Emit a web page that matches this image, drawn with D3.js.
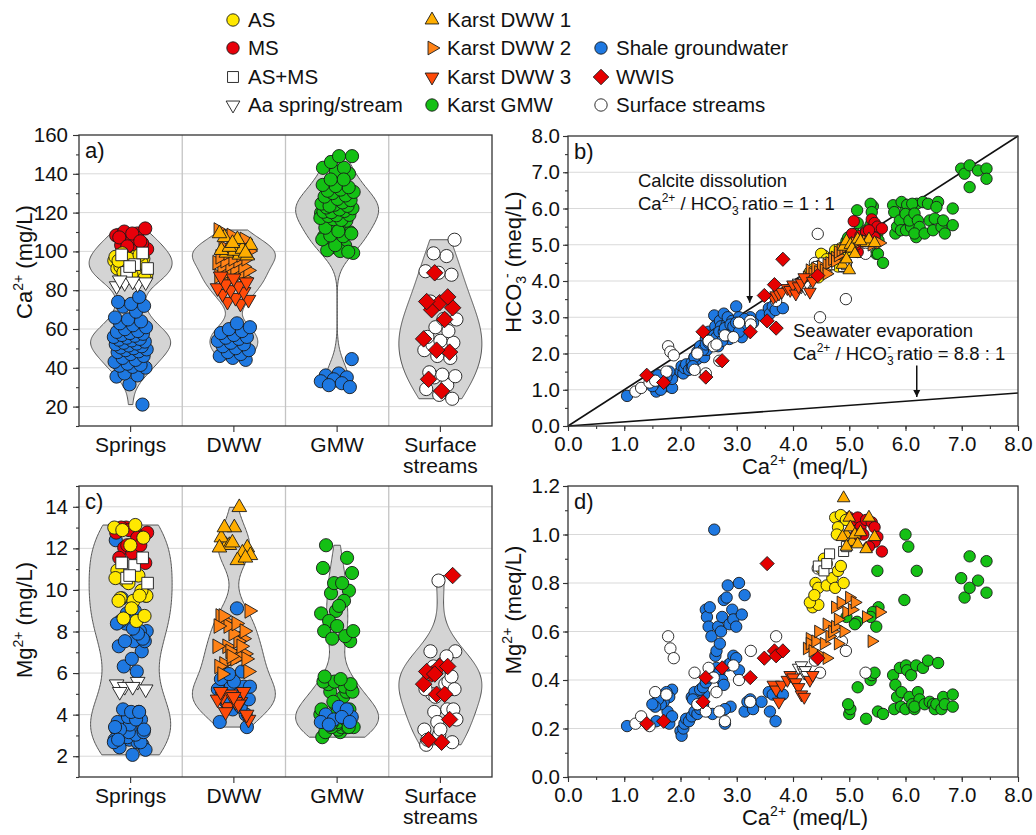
<!DOCTYPE html>
<html>
<head>
<meta charset="utf-8">
<script src="https://cdn.jsdelivr.net/npm/d3@7"></script>
<style>
  body { margin: 0; background: #fff; }
  text { font-family: "Liberation Sans", Arial, Helvetica, sans-serif; fill: #111; }
</style>
</head>
<body>
<script>
// Every sample is [Ca2+, HCO3-, Mg2+] in meq/L.
// Panels a) and c) show Ca2+ and Mg2+ converted to mg/L.
const CA_MG_PER_MEQ = 20.04;
const MG_MG_PER_MEQ = 12.15;

const categories = ["Springs", "DWW", "GMW", "Surface streams"];
const caMgTicks = [20, 40, 60, 80, 100, 120, 140, 160];
const mgMgTicks = [2, 4, 6, 8, 10, 12, 14];
const meqTicks = [0, 1, 2, 3, 4, 5, 6, 7, 8];
const mgMeqTicks = [0, 0.2, 0.4, 0.6, 0.8, 1.0, 1.2];

const springsAS = [
  [4.75,4.75,1.07],[4.85,4.90,1.08],[4.94,4.80,1.06],[4.80,4.60,1.03],[4.78,4.50,1.00],
  [4.55,4.70,0.90],[4.60,4.45,0.88],[4.50,4.75,0.86],[4.40,4.30,0.80],[4.45,4.40,0.78],
  [4.60,4.60,0.79],[4.70,4.50,0.82],[4.80,4.40,0.85],[4.85,4.70,0.87],[4.35,4.20,0.70],
  [4.45,4.10,0.71],[4.30,4.25,0.72],[4.38,4.35,0.75],[4.75,4.85,0.78],[4.90,4.50,0.80]
];
const springsMS = [
  [5.00,4.95,1.07],[5.05,5.30,1.05],[5.08,5.65,1.06],[5.15,4.80,1.07],[5.20,5.25,1.03],
  [5.30,5.35,1.06],[5.40,5.70,1.05],[5.45,5.60,1.03],[5.50,5.50,0.99],[5.58,5.45,0.93],
  [5.45,5.20,0.97],[5.35,5.40,0.95],[5.25,5.10,1.00],[5.12,5.00,1.00]
];
const springsASMS = [
  [4.45,4.40,0.87],[4.55,4.50,0.85],[4.65,4.45,0.92],[4.90,4.40,0.93],[4.95,4.45,0.95],[4.60,4.30,0.88]
];
const springsAa = [
  [4.10,3.95,0.45],[4.15,3.85,0.46],[4.18,3.90,0.44],[4.20,4.00,0.43],[4.22,3.80,0.44],[4.25,3.95,0.42]
];
const karstDWW1 = [
  [4.90,4.95,1.15],[4.95,5.10,1.00],[4.88,4.45,0.99],[5.00,4.30,1.07],[5.02,5.00,1.03],
  [5.05,4.90,0.97],[5.10,4.75,1.00],[5.15,5.15,0.96],[5.30,5.05,0.94],[5.35,5.15,1.07],
  [4.95,4.60,0.95],[5.20,5.10,1.01],[5.45,5.05,0.99]
];
const karstDWW2 = [
  [4.25,4.10,0.53],[4.30,4.15,0.57],[4.30,4.30,0.55],[4.35,4.20,0.52],[4.40,4.35,0.56],
  [4.45,4.25,0.60],[4.50,4.40,0.50],[4.55,4.30,0.55],[4.60,4.45,0.49],[4.60,4.20,0.63],
  [4.65,4.50,0.58],[4.70,4.60,0.60],[4.75,4.65,0.62],[4.75,4.55,0.70],[4.80,4.70,0.55],
  [4.80,4.80,0.65],[4.85,4.85,0.72],[4.90,4.90,0.60],[4.95,4.95,0.68],[5.00,5.00,0.74],
  [5.05,4.95,0.69],[5.10,5.05,0.72],[5.30,5.10,0.66],[5.40,5.00,0.56],[5.54,5.05,0.68]
];
const karstDWW3 = [
  [3.65,3.55,0.38],[3.70,3.60,0.36],[3.75,3.65,0.31],[3.80,3.70,0.38],[3.90,3.80,0.40],
  [3.95,3.75,0.42],[4.00,3.90,0.41],[4.05,3.65,0.39],[4.10,3.85,0.37],[4.15,3.95,0.34],
  [4.20,4.10,0.33],[4.30,3.70,0.40],[4.35,4.00,0.42]
];
const karstGMW = [
  [6.99,7.10,0.82],[7.05,6.96,0.74],[7.14,7.19,0.91],[7.14,6.59,0.78],[7.29,7.05,0.81],
  [7.44,7.10,0.89],[7.44,6.82,0.76],
  [6.00,6.04,1.00],[6.05,5.67,0.95],[6.20,6.13,0.85],[5.98,5.72,0.73],[5.50,5.31,0.85],
  [5.52,5.12,0.70],[5.48,4.75,0.62],[5.42,6.06,0.68],[5.38,6.13,0.66],[5.14,5.95,0.64],
  [5.10,5.30,0.63],[4.95,5.10,0.66],
  [5.00,4.90,0.26],[5.02,5.05,0.28],[4.98,5.20,0.30],[5.15,5.60,0.37],[5.30,5.40,0.24],
  [5.38,5.55,0.40],[5.40,5.90,0.42],[5.45,5.25,0.43],[5.51,4.75,0.27],[5.60,4.50,0.26],
  [5.78,6.09,0.42],[5.82,5.31,0.38],[5.85,5.50,0.33],[5.80,5.90,0.28],[5.90,5.67,0.45],
  [5.93,6.18,0.35],[5.92,5.40,0.29],[6.01,5.40,0.46],[6.03,6.10,0.44],[6.00,5.85,0.28],
  [6.10,5.49,0.42],[6.07,5.67,0.33],[6.12,6.13,0.30],[6.16,5.86,0.28],[6.19,5.21,0.46],
  [6.22,5.67,0.35],[6.25,5.49,0.32],[6.16,5.31,0.29],[6.31,6.18,0.45],[6.34,5.31,0.30],
  [6.40,6.13,0.48],[6.43,5.67,0.31],[6.49,5.40,0.30],[6.52,5.72,0.28],[6.58,6.18,0.47],
  [6.55,6.04,0.30],[6.64,5.49,0.28],[6.67,5.67,0.33],[6.70,5.31,0.30],[6.84,6.00,0.34],
  [6.84,5.54,0.29]
];
// Shale groundwater, split by the site group it was sampled in
const shaleSprings = [
  [1.05,0.83,0.21],[1.57,0.95,0.23],[1.77,1.10,0.27],[1.80,1.20,0.22],[1.85,1.05,0.25],
  [2.00,1.50,0.19],[2.02,1.65,0.17],[2.05,1.45,0.20],[2.07,1.60,0.22],[2.10,1.70,0.24],
  [2.15,1.55,0.23],[2.20,1.75,0.25],[2.25,1.90,0.27],[2.30,1.85,0.26],[2.35,2.00,0.28],
  [2.40,2.20,0.30],[2.42,1.90,0.34],[2.45,2.40,0.69],[2.47,2.10,0.66],[2.50,2.60,0.62],
  [2.52,2.30,0.70],[2.55,2.50,0.58],[2.57,2.35,0.26],[2.60,3.05,1.02],[2.62,2.75,0.50],
  [2.64,2.55,0.52],[2.67,2.20,0.62],[2.70,2.90,0.55],[2.72,2.75,0.60],[2.74,2.50,0.66],
  [2.77,3.10,0.73],[2.79,2.60,0.22],[2.82,2.80,0.74],[2.84,3.00,0.79],[2.87,2.40,0.63],
  [2.89,2.65,0.29],[2.92,2.90,0.69],[2.94,2.60,0.65],[2.99,3.30,0.62],[3.04,3.00,0.80],
  [3.09,2.45,0.67],[3.14,2.90,0.27],[3.19,2.75,0.31],[3.24,3.00,0.32],[3.29,2.85,0.28],
  [3.44,3.05,0.31],[3.57,3.25,0.35],[3.59,3.10,0.27],[3.64,3.30,0.34],[3.69,3.20,0.23],
  [3.82,3.25,0.34]
];
const shaleDWW = [
  [2.20,1.60,0.33],[2.25,1.90,0.35],[2.30,2.05,0.30],[2.35,2.20,0.36],[2.40,2.10,0.37],
  [2.45,2.25,0.39],[2.50,2.30,0.41],[2.55,2.40,0.42],[2.60,2.50,0.44],[2.64,2.45,0.45],
  [2.69,2.60,0.43],[2.74,2.35,0.40],[2.77,2.60,0.38],[2.79,2.70,0.28],[2.84,2.50,0.46],
  [2.89,2.80,0.47],[2.94,2.75,0.50],[2.99,2.85,0.49],[3.04,2.60,0.44],[3.14,2.95,0.75]
];
const shaleGMW = [
  [2.22,1.65,0.32],[1.85,1.30,0.36],[1.80,1.50,0.33],[1.75,1.35,0.35],[1.70,1.20,0.31],
  [1.65,1.00,0.30],[1.60,1.40,0.32],[1.55,1.20,0.29],[1.50,1.10,0.30]
];
const surfaceStreams = [
  [1.20,0.95,0.22],[1.30,1.05,0.25],[1.45,1.20,0.21],[1.55,1.25,0.35],[1.75,1.50,0.34],
  [1.78,2.20,0.58],[1.82,2.05,0.53],[1.88,1.95,0.49],[2.25,1.55,0.43],[2.30,2.00,0.30],
  [2.45,1.45,0.27],[2.50,2.35,0.45],[2.59,2.20,0.41],[2.64,2.25,0.35],[2.69,1.80,0.27],
  [2.79,2.50,0.23],[2.94,2.45,0.46],[3.04,2.85,0.40],[3.24,2.90,0.31],[3.25,2.80,0.52],
  [3.70,3.45,0.58],[4.39,4.50,0.48],[4.44,5.30,0.86],[4.48,3.00,0.43],[4.87,4.40,0.56],
  [4.94,3.50,0.52],[5.29,4.75,0.43]
];
const wwis = [
  [1.40,1.40,0.22],[1.70,1.20,0.23],[2.40,2.60,0.31],[2.45,1.35,0.41],[2.74,1.80,0.45],
  [3.24,2.60,0.41],[3.49,3.60,0.49],[3.54,2.90,0.88],[3.67,3.90,0.52],[3.70,2.70,0.50],
  [3.82,4.60,0.52],[4.44,4.15,0.49]
];

const COL = {
  AS: "#FFE800", MS: "#E8000A", white: "#FFFFFF",
  dww1: "#FFAE00", dww2: "#FF8216", dww3: "#FF4A08",
  gmw: "#14C014", shale: "#1E78E1", wwis: "#E50000"
};

// drawing order (later on top)
const series = [
  { data: karstGMW,       cat: "GMW",             shape: "circle",   fill: COL.gmw },
  { data: shaleSprings,   cat: "Springs",         shape: "circle",   fill: COL.shale },
  { data: shaleDWW,       cat: "DWW",             shape: "circle",   fill: COL.shale },
  { data: shaleGMW,       cat: "GMW",             shape: "circle",   fill: COL.shale },
  { data: surfaceStreams, cat: "Surface streams", shape: "circle",   fill: COL.white },
  { data: springsMS,      cat: "Springs",         shape: "circle",   fill: COL.MS },
  { data: springsAS,      cat: "Springs",         shape: "circle",   fill: COL.AS },
  { data: springsASMS,    cat: "Springs",         shape: "square",   fill: COL.white },
  { data: springsAa,      cat: "Springs",         shape: "triDown",  fill: COL.white },
  { data: karstDWW2,      cat: "DWW",             shape: "triRight", fill: COL.dww2 },
  { data: karstDWW1,      cat: "DWW",             shape: "triUp",    fill: COL.dww1 },
  { data: karstDWW3,      cat: "DWW",             shape: "triDown",  fill: COL.dww3 },
  { data: wwis,           cat: "Surface streams", shape: "diamond",  fill: COL.wwis }
];

const legendItems = [
  { col: 0, row: 0, label: "AS",                shape: "circle",   fill: COL.AS },
  { col: 0, row: 1, label: "MS",                shape: "circle",   fill: COL.MS },
  { col: 0, row: 2, label: "AS+MS",             shape: "square",   fill: COL.white },
  { col: 0, row: 3, label: "Aa spring/stream",  shape: "triDown",  fill: COL.white },
  { col: 1, row: 0, label: "Karst DWW 1",       shape: "triUp",    fill: COL.dww1 },
  { col: 1, row: 1, label: "Karst DWW 2",       shape: "triRight", fill: COL.dww2 },
  { col: 1, row: 2, label: "Karst DWW 3",       shape: "triDown",  fill: COL.dww3 },
  { col: 1, row: 3, label: "Karst GMW",         shape: "circle",   fill: COL.gmw },
  { col: 2, row: 1, label: "Shale groundwater", shape: "circle",   fill: COL.shale },
  { col: 2, row: 2, label: "WWIS",              shape: "diamond",  fill: COL.wwis },
  { col: 2, row: 3, label: "Surface streams",   shape: "circle",   fill: COL.white }
];

const svg = d3.select("body").append("svg").attr("width", 1036).attr("height", 835);

function shapePath(type, r) {
  const R = r * 1.28;
  const h = R * 0.866;
  switch (type) {
    case "circle":
      return `M${r},0A${r},${r} 0 1,1 ${-r},0A${r},${r} 0 1,1 ${r},0Z`;
    case "square": {
      const s = r * 0.88;
      return `M${-s},${-s}H${s}V${s}H${-s}Z`;
    }
    case "diamond": {
      const s = r * 1.25;
      return `M0,${-s}L${s},0L0,${s}L${-s},0Z`;
    }
    case "triUp":    return `M0,${-R}L${h},${R / 2}L${-h},${R / 2}Z`;
    case "triDown":  return `M0,${R}L${h},${-R / 2}L${-h},${-R / 2}Z`;
    case "triRight": return `M${R},0L${-R / 2},${h}L${-R / 2},${-h}Z`;
  }
}

function marker(g, shape, fill, x, y, r) {
  g.append("path")
    .attr("d", shapePath(shape, r))
    .attr("transform", `translate(${x},${y})`)
    .attr("fill", fill)
    .attr("stroke", "#1a1a1a")
    .attr("stroke-width", 0.9);
}

// ---------- legend ----------
const legendX = [233, 432, 601];
const legendY = [20, 48, 77, 105];
const lg = svg.append("g");
legendItems.forEach(it => {
  const cx = legendX[it.col], cy = legendY[it.row];
  marker(lg, it.shape, it.fill, cx, cy, 6.2);
  lg.append("text").attr("x", cx + 15).attr("y", cy + 7)
    .attr("font-size", 20.5).text(it.label);
});

// ---------- shared helpers ----------
function styleAxis(sel, fontSize) {
  sel.select(".domain").remove();
  sel.selectAll(".tick line").attr("stroke", "#333").attr("stroke-width", 1.1);
  sel.selectAll(".tick text").attr("font-size", fontSize).attr("fill", "#111")
    .attr("font-family", '"Liberation Sans", Arial, sans-serif');
}

function frame(g, P) {
  g.append("rect").attr("x", P.l).attr("y", P.t)
    .attr("width", P.r - P.l).attr("height", P.b - P.t)
    .attr("fill", "none").attr("stroke", "#333").attr("stroke-width", 1.3);
}

function panelLetter(g, P, txt) {
  g.append("text").attr("x", P.l + 6).attr("y", P.t + 23)
    .attr("font-size", 22).text(txt);
}

// rotated axis title with a super/subscript part
function yTitle(g, x, y, parts) {
  const t = g.append("text")
    .attr("transform", `translate(${x},${y}) rotate(-90)`)
    .attr("text-anchor", "middle").attr("font-size", 22);
  parts.forEach(p => {
    const s = t.append("tspan").text(p.t);
    if (p.sup) s.attr("font-size", 14).attr("dy", -9);
    if (p.sub) s.attr("font-size", 14).attr("dy", 5);
    if (p.dy) s.attr("dy", p.dy);
    if (p.dx) s.attr("dx", p.dx);
  });
  return t;
}

function richText(g, x, y, size, parts, anchor) {
  const t = g.append("text").attr("x", x).attr("y", y)
    .attr("font-size", size).attr("text-anchor", anchor || "start");
  parts.forEach(p => {
    const s = t.append("tspan").text(p.t);
    if (p.size) s.attr("font-size", p.size);
    if (p.dy) s.attr("dy", p.dy);
    if (p.dx) s.attr("dx", p.dx);
  });
  return t;
}

// Gaussian kernel density estimate with the given bandwidth
function density(values, lo, hi, n, h) {
  const out = [];
  for (let k = 0; k <= n; k++) {
    const yv = lo + (hi - lo) * k / n;
    let s = 0;
    for (const v of values) { const u = (yv - v) / h; s += Math.exp(-0.5 * u * u); }
    out.push([yv, s]);
  }
  return out;
}

// ---------- violin panels (a, c) ----------
function violinPanel(P, domain, ticks, minorStep, idx, factor, bandwidths, letter, title) {
  const g = svg.append("g");
  const x = d3.scaleBand().domain(categories).range([P.l, P.r]).padding(0);
  const y = d3.scaleLinear().domain(domain).range([P.b, P.t]);
  const cx = c => x(c) + x.bandwidth() / 2;

  g.selectAll(".hgrid").data(ticks.filter(t => t < domain[1])).join("line")
    .attr("x1", P.l).attr("x2", P.r).attr("y1", d => y(d)).attr("y2", d => y(d))
    .attr("stroke", "#d9d9d9").attr("stroke-width", 1);
  g.selectAll(".vgrid").data(categories.slice(1)).join("line")
    .attr("x1", d => x(d)).attr("x2", d => x(d)).attr("y1", P.t).attr("y2", P.b)
    .attr("stroke", "#c4c4c4").attr("stroke-width", 1.3);

  const halfWidth = 41.5;
  categories.forEach((c, ci) => {
    const vals = series.filter(s => s.cat === c).flatMap(s => s.data.map(d => d[idx] * factor));
    const lo = d3.min(vals), hi = d3.max(vals);
    const dens = density(vals, lo, hi, 160, bandwidths[ci]);
    const dmax = d3.max(dens, d => d[1]);
    const area = d3.area()
      .y(d => y(d[0]))
      .x0(d => cx(c) - halfWidth * d[1] / dmax)
      .x1(d => cx(c) + halfWidth * d[1] / dmax)
      .curve(d3.curveBasis);
    g.append("path").attr("d", area(dens))
      .attr("fill", "#d4d4d4").attr("stroke", "#555").attr("stroke-width", 1);
  });

  // points spread sideways with a golden-ratio sequence per category
  const count = {};
  series.forEach(s => {
    s.data.forEach(d => {
      const k = count[s.cat] = (count[s.cat] || 0) + 1;
      const off = (((k * 0.6180339887 + 0.23) % 1) - 0.5) * 34;
      marker(g, s.shape, s.fill, cx(s.cat) + off, y(d[idx] * factor), 6.6);
    });
  });

  frame(g, P);

  const minors = d3.range(domain[0], domain[1] + 1e-9, minorStep);
  g.append("g").attr("transform", `translate(${P.l},0)`)
    .call(d3.axisLeft(y).tickValues(minors).tickSize(3).tickFormat(""))
    .call(s => styleAxis(s, 20));
  g.append("g").attr("transform", `translate(${P.l},0)`)
    .call(d3.axisLeft(y).tickValues(ticks).tickSize(6).tickPadding(5).tickFormat(d3.format("d")))
    .call(s => styleAxis(s, 20.5));

  g.append("g").attr("transform", `translate(0,${P.b})`)
    .call(d3.axisBottom(x).tickSize(6).tickFormat(""))
    .call(s => styleAxis(s, 20));
  categories.forEach(c => {
    const words = c === "Surface streams" ? ["Surface", "streams"] : [c];
    words.forEach((w, i) => {
      g.append("text").attr("x", cx(c)).attr("y", P.b + 26 + i * 21)
        .attr("text-anchor", "middle").attr("font-size", 21).text(w);
    });
  });

  panelLetter(g, P, letter);
  title(g);
}

// kernel bandwidths (mg/L) per category: Springs, DWW, GMW, Surface streams
const caBandwidth = [6.0, 5.5, 7.5, 14];
const mgBandwidth = [1.5, 0.85, 0.9, 1.15];

violinPanel({ l: 79, r: 492, t: 135, b: 426 }, [10, 160], caMgTicks, 10, 0, CA_MG_PER_MEQ, caBandwidth, "a)",
  g => yTitle(g, 32, 262, [{ t: "Ca" }, { t: "2+", sup: true }, { t: " (mg/L)", dy: 9 }]));

violinPanel({ l: 79, r: 492, t: 486, b: 777 }, [1, 15], mgMgTicks, 1, 2, MG_MG_PER_MEQ, mgBandwidth, "c)",
  g => yTitle(g, 32, 620, [{ t: "Mg" }, { t: "2+", sup: true }, { t: " (mg/L)", dy: 9 }]));

// ---------- scatter panels (b, d) ----------
function scatterPanel(P, yDomain, yTicks, yMinorStep, idx, letter, title) {
  const g = svg.append("g");
  const x = d3.scaleLinear().domain([0, 8]).range([P.l, P.r]);
  const y = d3.scaleLinear().domain(yDomain).range([P.b, P.t]);

  g.selectAll(".hgrid").data(yTicks.slice(1, -1)).join("line")
    .attr("x1", P.l).attr("x2", P.r).attr("y1", d => y(d)).attr("y2", d => y(d))
    .attr("stroke", "#d9d9d9").attr("stroke-width", 1);

  const extra = g.append("g");

  series.forEach(s => {
    s.data.forEach(d => marker(g, s.shape, s.fill, x(d[0]), y(d[idx]), 5.7));
  });

  frame(g, P);

  const yMinors = d3.range(yDomain[0], yDomain[1] + 1e-9, yMinorStep);
  g.append("g").attr("transform", `translate(${P.l},0)`)
    .call(d3.axisLeft(y).tickValues(yMinors).tickSize(3).tickFormat(""))
    .call(s => styleAxis(s, 20));
  g.append("g").attr("transform", `translate(${P.l},0)`)
    .call(d3.axisLeft(y).tickValues(yTicks).tickSize(5).tickPadding(3).tickFormat(d3.format(".1f")))
    .call(s => styleAxis(s, 20.5));
  g.append("g").attr("transform", `translate(0,${P.b})`)
    .call(d3.axisBottom(x).tickValues(d3.range(0, 8.01, 0.5)).tickSize(3).tickFormat(""))
    .call(s => styleAxis(s, 20));
  g.append("g").attr("transform", `translate(0,${P.b})`)
    .call(d3.axisBottom(x).tickValues(meqTicks).tickSize(5).tickPadding(5).tickFormat(d3.format(".1f")))
    .call(s => styleAxis(s, 20.5));

  richText(g, 805, P.b + 48, 22,
    [{ t: "Ca" }, { t: "2+", size: 14, dy: -9 }, { t: " (meq/L)", dy: 9 }], "middle");

  panelLetter(g, P, letter);
  title(g);
  return { g, x, y, extra };
}

const pb = scatterPanel({ l: 568, r: 1018, t: 136, b: 426 }, [0, 8], meqTicks, 0.5, 1, "b)",
  g => yTitle(g, 521, 262, [{ t: "HCO" }, { t: "3", sub: true }, { t: "-", sup: true, dy: -14, dx: -2 }, { t: " (meq/L)", dy: 9 }]));

scatterPanel({ l: 568, r: 1018, t: 486, b: 777 }, [0, 1.2], mgMeqTicks, 0.1, 2, "d)",
  g => yTitle(g, 521, 610, [{ t: "Mg" }, { t: "2+", sup: true }, { t: " (meq/L)", dy: 9 }]));

// reference lines and notes in panel b
const calciteRatio = 1.0;       // Ca2+ : HCO3- = 1 : 1
const seawaterRatio = 8.8;      // Ca2+ : HCO3- = 8.8 : 1
const lineG = pb.extra;
const lineGen = d3.line().x(d => pb.x(d[0])).y(d => pb.y(d[1]));
lineG.append("path").attr("d", lineGen([[0, 0], [8, 8 / calciteRatio]]))
  .attr("stroke", "#111").attr("stroke-width", 1.6).attr("fill", "none");
lineG.append("path").attr("d", lineGen([[0, 0], [8, 8 / seawaterRatio]]))
  .attr("stroke", "#111").attr("stroke-width", 1.6).attr("fill", "none");

svg.append("defs").append("marker").attr("id", "arrowHead")
  .attr("viewBox", "0 0 10 10").attr("refX", 10).attr("refY", 5)
  .attr("markerWidth", 7).attr("markerHeight", 9).attr("markerUnits", "userSpaceOnUse")
  .attr("orient", "auto")
  .append("path").attr("d", "M0,0L10,5L0,10Z").attr("fill", "#111");

const notes = pb.g.append("g");
[[3.23, 5.75, 3.4], [6.2, 1.67, 0.8]].forEach(([cx, y0, y1]) => {
  notes.append("line").attr("x1", pb.x(cx)).attr("x2", pb.x(cx))
    .attr("y1", pb.y(y0)).attr("y2", pb.y(y1))
    .attr("stroke", "#111").attr("stroke-width", 1.5).attr("marker-end", "url(#arrowHead)");
});
richText(notes, 638, 187, 18.5, [{ t: "Calcite dissolution" }]);
richText(notes, 638, 210, 18.5, [
  { t: "Ca" }, { t: "2+", size: 12, dy: -8 }, { t: " / HCO", dy: 8 },
  { t: "3", size: 12, dy: 5 }, { t: "-", size: 12, dy: -14, dx: -6 }, { t: " ratio = 1 : 1", dy: 9 }
]);
richText(notes, 793, 337, 18.5, [{ t: "Seawater evaporation" }]);
richText(notes, 793, 360, 18.5, [
  { t: "Ca" }, { t: "2+", size: 12, dy: -8 }, { t: " / HCO", dy: 8 },
  { t: "3", size: 12, dy: 5 }, { t: "-", size: 12, dy: -14, dx: -6 }, { t: " ratio = 8.8 : 1", dy: 9 }
]);
</script>
</body>
</html>
